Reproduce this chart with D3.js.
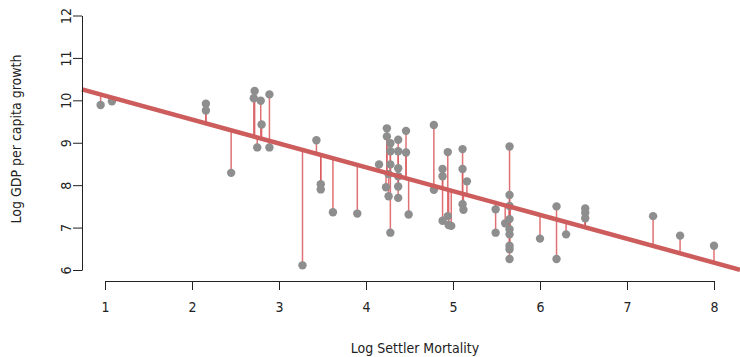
<!DOCTYPE html>
<html>
<head>
<meta charset="utf-8">
<script src="https://cdn.jsdelivr.net/npm/d3@7"></script>
<style>
  body { margin: 0; background: #fff; }
  text { font-family: "DejaVu Sans Condensed", "DejaVu Sans", sans-serif; fill: #222; }
</style>
</head>
<body>
<div id="chart"></div>
<script>
var w = 740, h = 357;

// log settler mortality
var mortality = [0.95, 1.08, 2.16, 2.16, 2.45, 2.72, 2.71, 2.79, 2.80, 2.75, 2.89, 2.89,
  3.27, 3.43, 3.48, 3.48, 3.62, 3.90, 4.15, 4.24, 4.24, 4.28, 4.28, 4.28, 4.26, 4.23,
  4.26, 4.28, 4.37, 4.37, 4.37, 4.37, 4.37, 4.37, 4.46, 4.46, 4.49, 4.78, 4.78, 4.88,
  4.88, 4.88, 4.94, 4.94, 4.95, 4.98, 5.11, 5.11, 5.16, 5.11, 5.12, 5.49, 5.49, 5.60,
  5.65, 5.65, 5.65, 5.65, 5.65, 5.65, 5.65, 5.65, 5.65, 6.00, 6.19, 6.19, 6.30, 6.52,
  6.52, 6.52, 7.30, 7.61, 8.00];
// log GDP per capita
var gdp = [9.89, 9.98, 9.92, 9.76, 8.29, 10.22, 10.05, 9.99, 9.43, 8.89, 10.14, 8.89,
  6.11, 9.06, 8.02, 7.90, 7.36, 7.33, 8.49, 9.34, 9.15, 8.99, 8.80, 8.49, 8.26, 7.95,
  7.74, 6.88, 9.07, 8.80, 8.40, 8.21, 7.97, 7.70, 9.28, 8.77, 7.31, 9.42, 7.89, 8.38,
  8.21, 7.16, 8.78, 7.27, 7.06, 7.04, 8.85, 8.38, 8.09, 7.55, 7.42, 7.43, 6.88, 7.10,
  8.91, 7.77, 7.51, 7.20, 6.96, 6.84, 6.57, 6.49, 6.26, 6.74, 7.50, 6.26, 6.84, 7.45,
  7.35, 7.22, 7.27, 6.81, 6.57];

// fitted line
var intercept = 10.67, slope = -0.562;

var xTicks = [1, 2, 3, 4, 5, 6, 7, 8];
var yTicks = [6, 7, 8, 9, 10, 11, 12];

var svg = d3.select("#chart").append("svg")
    .attr("width", w)
    .attr("height", h);

var x = d3.scaleLinear().domain([1, 8]).range([105, 714]);
var y = d3.scaleLinear().domain([6, 12]).range([270, 15.5]);
var fit = function(v) { return intercept + slope * v; };

var plotLeft = 82, plotRight = 740;

// residual segments
svg.selectAll("line.resid")
    .data(mortality)
  .enter().append("line")
    .attr("class", "resid")
    .attr("x1", function(d) { return x(d); })
    .attr("x2", function(d) { return x(d); })
    .attr("y1", function(d, i) { return y(gdp[i]); })
    .attr("y2", function(d) { return y(fit(d)); })
    .attr("stroke", "#d9585c")
    .attr("stroke-opacity", 0.85)
    .attr("stroke-width", 1.5);

// points
svg.selectAll("circle")
    .data(mortality)
  .enter().append("circle")
    .attr("cx", function(d) { return x(d); })
    .attr("cy", function(d, i) { return y(gdp[i]); })
    .attr("r", 4.2)
    .attr("fill", "#8e8e8e");

// regression line
var x0 = x.invert(plotLeft), x1 = x.invert(plotRight);
svg.append("line")
    .attr("x1", x(x0)).attr("y1", y(fit(x0)))
    .attr("x2", x(x1)).attr("y2", y(fit(x1)))
    .attr("stroke", "#cd5c5c")
    .attr("stroke-width", 4.5);

// x axis
var xAxis = svg.append("g")
    .attr("transform", "translate(0,281)")
    .call(d3.axisBottom(x).tickValues(xTicks).tickSize(9).tickSizeOuter(0)
      .tickPadding(12).tickFormat(d3.format("d")));
xAxis.select(".domain").attr("stroke", "#222");
xAxis.selectAll(".tick line").attr("stroke", "#222");
xAxis.selectAll("text").attr("font-size", 14).attr("fill", "#222");

// y axis, labels parallel to the axis
var yAxis = svg.append("g")
    .attr("transform", "translate(" + plotLeft + ",0)")
    .call(d3.axisLeft(y).tickValues(yTicks).tickSize(9).tickSizeOuter(0).tickFormat(d3.format("d")));
yAxis.select(".domain").attr("stroke", "#222");
yAxis.selectAll(".tick line").attr("stroke", "#222");
yAxis.selectAll("text")
    .attr("font-size", 14)
    .attr("fill", "#222")
    .attr("text-anchor", "middle")
    .attr("dy", null)
    .attr("x", null)
    .attr("transform", "translate(-16,0) rotate(-90)")
    .attr("dominant-baseline", "central");

svg.append("text")
    .attr("x", 415).attr("y", 353)
    .attr("text-anchor", "middle")
    .attr("font-size", 14)
    .text("Log Settler Mortality");

svg.append("text")
    .attr("transform", "translate(16,139) rotate(-90)")
    .attr("text-anchor", "middle")
    .attr("dominant-baseline", "central")
    .attr("font-size", 14)
    .text("Log GDP per capita growth");
</script>
</body>
</html>
